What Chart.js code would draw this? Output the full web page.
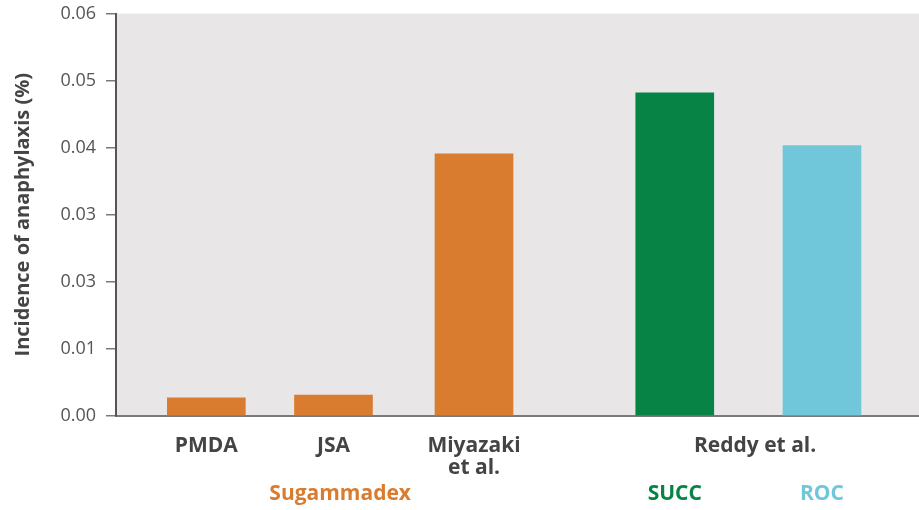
<!DOCTYPE html>
<html>
<head>
<meta charset="utf-8">
<script src="https://cdn.jsdelivr.net/npm/chart.js@4.4.1/dist/chart.umd.min.js"></script>
<style>
  html, body { margin: 0; padding: 0; background: #ffffff; }
  #wrap { width: 919px; height: 510px; position: relative; }
</style>
</head>
<body>
<div id="wrap"><canvas id="c" width="919" height="510"></canvas></div>
<script>
// ---- data ----
const barLabels = ['PMDA', 'JSA', ['Miyazaki', 'et al.'], 'SUCC', 'ROC'];
const incidence = [0.0027, 0.0031, 0.0391, 0.0482, 0.0403];
const barGroups = ['Sugammadex', 'Sugammadex', 'Sugammadex', 'SUCC', 'ROC'];
const studyLabel = 'Reddy et al.';
const groupLabels = ['Sugammadex', 'SUCC', 'ROC'];
const yTickLabels = ['0.00', '0.01', '0.03', '0.03', '0.04', '0.05', '0.06'];
const yAxisTitle = 'Incidence of anaphylaxis (%)';

// ---- layout (category slot grid) ----
const SLOTS = 120;
const barSlots = [13, 32, 53, 83, 105];
const studySlot = 95;
const groupSlots = [33, 83, 105];
const groupColors = { 'Sugammadex': '#D97C2F', 'SUCC': '#068345', 'ROC': '#71C7DA' };

const slotLabels = new Array(SLOTS).fill('');
const slotData = new Array(SLOTS).fill(null);
const slotColors = new Array(SLOTS).fill('#000');
barSlots.forEach((s, i) => {
  slotData[s] = incidence[i];
  slotColors[s] = groupColors[barGroups[i]];
});
barSlots.slice(0, 3).forEach((s, i) => { slotLabels[s] = barLabels[i]; });
slotLabels[studySlot] = studyLabel;

const groupRow = new Array(SLOTS).fill('');
const groupRowColors = new Array(SLOTS).fill('#000');
groupSlots.forEach((s, i) => {
  groupRow[s] = groupLabels[i];
  groupRowColors[s] = groupColors[groupLabels[i]];
});

const bgPlugin = {
  id: 'plotBg',
  beforeDraw(chart) {
    const { ctx, chartArea: a } = chart;
    ctx.save();
    ctx.fillStyle = '#E8E6E7';
    ctx.fillRect(a.left, a.top, a.right - a.left, a.bottom - a.top);
    ctx.restore();
  }
};

const labelFont = { family: 'Open Sans', size: 21, weight: '700', lineHeight: 1.05 };

new Chart(document.getElementById('c'), {
  type: 'bar',
  data: {
    labels: slotLabels,
    datasets: [{
      data: slotData,
      backgroundColor: slotColors,
      barThickness: 78,
      borderWidth: 0
    }]
  },
  options: {
    responsive: false,
    animation: false,
    devicePixelRatio: 1,
    layout: { padding: { top: 0, right: 0, left: 0, bottom: 5 } },
    plugins: { legend: { display: false }, tooltip: { enabled: false } },
    scales: {
      x: {
        type: 'category',
        grid: { display: true, drawOnChartArea: false, drawTicks: true, tickLength: 19, color: 'rgba(0,0,0,0)' },
        border: { display: true, color: '#7a7a7a', width: 2 },
        ticks: {
          autoSkip: false, maxRotation: 0, minRotation: 0, padding: 0,
          color: '#444444',
          font: labelFont
        }
      },
      x2: {
        type: 'category',
        position: 'bottom',
        labels: groupRow,
        grid: { display: true, drawOnChartArea: false, drawTicks: true, tickLength: 4, color: 'rgba(0,0,0,0)' },
        border: { display: false },
        ticks: {
          autoSkip: false, maxRotation: 0, minRotation: 0, padding: 0,
          color: (ctx) => groupRowColors[ctx.index],
          font: labelFont
        }
      },
      y: {
        min: 0, max: 0.06,
        afterFit(scale) { scale.width = 116; },
        grid: { drawOnChartArea: false, drawTicks: true, tickLength: 10, color: '#7a7a7a', lineWidth: 1.5 },
        border: { display: true, color: '#555555', width: 2 },
        ticks: {
          stepSize: 0.01, padding: 10,
          color: '#555555',
          font: { family: 'Open Sans', size: 18, weight: '400', lineHeight: 0.4 },
          callback: (v, i) => yTickLabels[i]
        },
        title: {
          display: true, text: yAxisTitle, color: '#444444',
          padding: { top: 11, bottom: 0 },
          font: { family: 'Open Sans', size: 20, weight: '700' }
        }
      }
    }
  },
  plugins: [bgPlugin]
});
</script>
</body>
</html>
